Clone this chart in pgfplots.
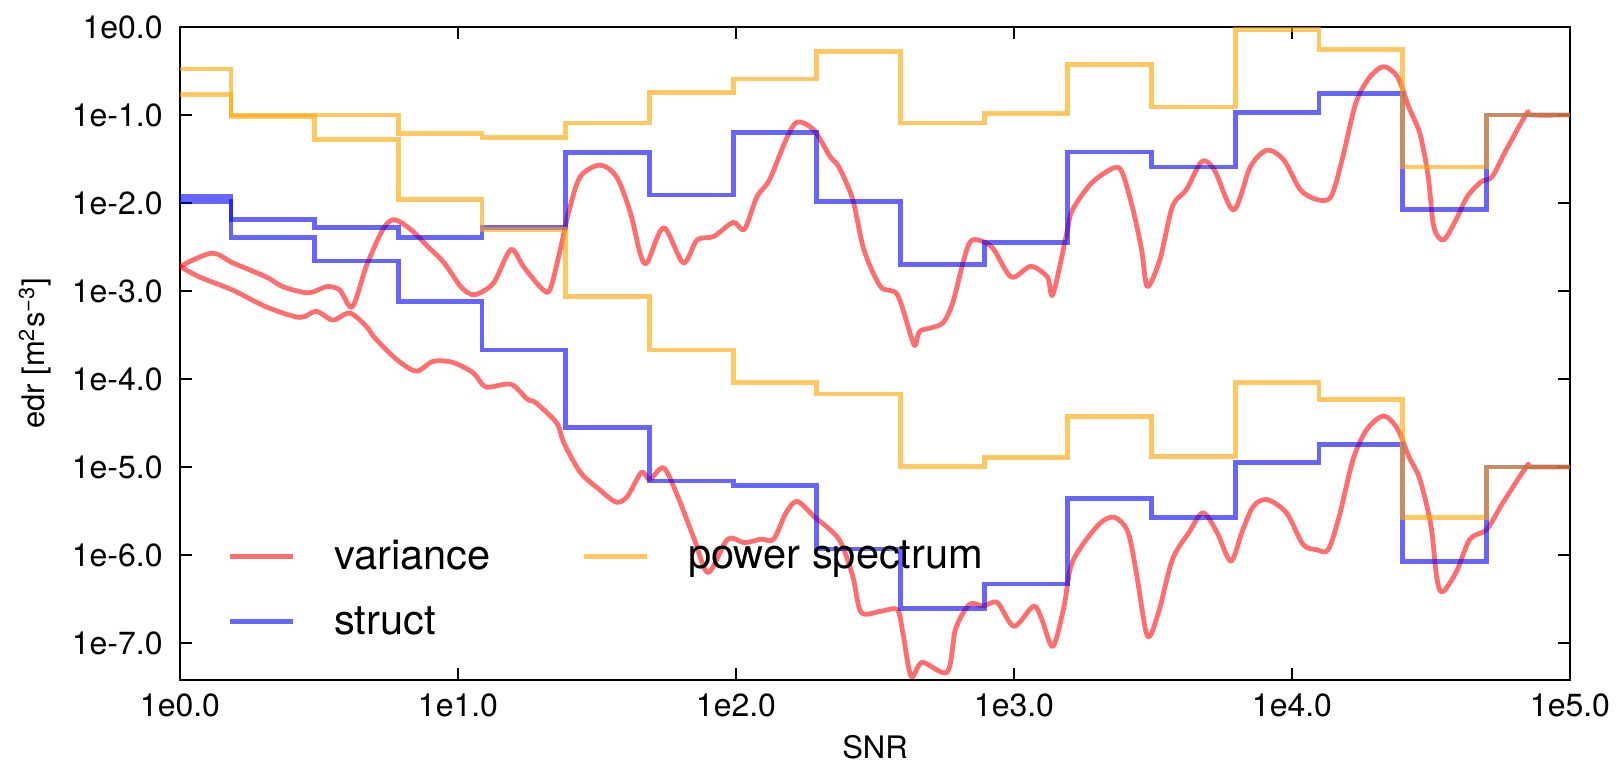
\documentclass[border=0pt]{standalone}
\usepackage{fontspec}
\setmainfont{TeX Gyre Heros}
\usepackage{pgfplots}
\pgfplotsset{compat=1.18}
\definecolor{vred}{RGB}{255,0,0}
\definecolor{vblue}{RGB}{0,0,255}
\definecolor{vorange}{RGB}{255,165,0}
\tikzset{
  varstyle/.style={vred, opacity=0.57, line width=2.4pt, line join=round},
  strstyle/.style={vblue, opacity=0.6, line width=2.4pt},
  psstyle/.style={vorange, opacity=0.62, line width=2.4pt},
}
\begin{document}
\begin{tikzpicture}
\begin{axis}[
  scale only axis,
  width=695pt, height=326.5pt,
  xmode=log, ymode=log,
  xmin=1, xmax=100000,
  ymin=3.8e-8, ymax=1,
  xtick={1,10,100,1000,10000,100000},
  xticklabels={1e0.0,1e1.0,1e2.0,1e3.0,1e4.0,1e5.0},
  ytick={1e-7,1e-6,1e-5,1e-4,1e-3,1e-2,1e-1,1},
  yticklabels={1e-7.0,1e-6.0,1e-5.0,1e-4.0,1e-3.0,1e-2.0,1e-1.0,1e0.0},
  xminorticks=false, yminorticks=false,
  tick align=inside,
  major tick length=6pt,
  tick style={black, line width=0.6pt},
  axis line style={black, line width=0.8pt},
  tick label style={font=\fontsize{16}{19}\selectfont},
  xticklabel style={inner sep=0pt, yshift=-6.5pt},
  yticklabel style={inner sep=0pt, xshift=-8.5pt},
  xlabel={SNR},
  ylabel={edr [m\textsuperscript{2}s\textsuperscript{−3}]},
  label style={font=\fontsize{15.5}{18}\selectfont},
  xlabel style={at={(axis description cs:0.5,-0.103)}, anchor=center},
  ylabel style={at={(axis description cs:-0.1043,0.5)}, anchor=center},
  legend columns=2,
  legend cell align=left,
  legend style={
    draw=none, fill=none,
    at={(0.0338,0.215)}, anchor=north west,
    font=\fontsize{20.8}{25}\selectfont,
    inner sep=0pt,
    nodes={inner sep=0pt},
    row sep=17pt,
    /tikz/every odd column/.append style={column sep=19.5pt},
    /tikz/every even column/.append style={column sep=45.4pt},
  },
  legend image code/.code={\draw[#1] (0pt,0pt) -- (31.5pt,0pt);},
]
% ---------- variance (upper) ----------
\addplot[varstyle, smooth, forget plot] coordinates {
(1,1.905e-3) (1.30,2.692e-3) (1.549,2.089e-3) (2.042,1.445e-3) (2.344,1.122e-3)
(2.884,9.550e-4) (3.388,1.122e-3) (3.758,1.023e-3) (4.169,6.607e-4) (4.677,1.905e-3)
(5.370,5.012e-3) (5.888,6.457e-3) (6.761,5.012e-3) (7.762,3.236e-3) (8.913,2.089e-3)
(10.23,1.122e-3) (11.22,9.120e-4) (12.02,9.550e-4) (13.49,1.259e-3) (15.49,2.951e-3)
(17.18,1.905e-3) (19.72,1.122e-3) (21.38,1.023e-3) (23.44,3.162e-3) (25.12,8.318e-3)
(27.54,1.995e-2) (32.36,2.692e-2) (37.15,1.995e-2) (41.69,7.762e-3) (45.19,2.692e-3)
(47.86,2.089e-3) (54.95,5.248e-3) (64.57,2.089e-3) (72.44,3.802e-3) (83.18,4.169e-3)
(97.72,6.026e-3) (107.2,5.012e-3) (118.9,1.175e-2) (131.8,1.820e-2) (151.4,5.248e-2)
(166.0,8.318e-2) (190.5,6.761e-2) (218.8,3.311e-2) (234.4,2.570e-2) (263.0,1.096e-2)
(288.4,2.951e-3) (331.1,1.122e-3) (380.2,9.120e-4) (426.6,3.020e-4) (441.6,2.399e-4)
(457.1,3.467e-4) (501.2,3.802e-4) (555.9,4.365e-4) (602.6,7.413e-4) (660.7,2.291e-3)
(707.9,3.802e-3) (831.8,3.162e-3) (977.2,1.445e-3) (1148,1.905e-3) (1318,1.445e-3)
(1380,9.120e-4) (1549,4.571e-3) (1622,8.318e-3) (1905,1.698e-2) (2291,2.512e-2)
(2455,2.188e-2) (2692,7.943e-3) (2884,2.818e-3) (3020,1.122e-3) (3350,2.291e-3)
(3715,9.120e-3) (4169,1.413e-2) (4732,2.951e-2) (5248,2.399e-2) (6166,8.318e-3)
(7079,2.570e-2) (8128,3.981e-2) (9333,3.090e-2) (10720,1.413e-2) (12300,1.096e-2)
(13800,1.175e-2) (15140,3.090e-2) (16980,0.1380) (19050,0.2692) (21380,0.3548)
(23990,0.2692) (26300,0.1230) (28840,6.166e-2) (30900,1.995e-2) (32360,5.370e-3)
(35080,3.802e-3) (38900,6.457e-3) (42660,1.175e-2) (47860,1.738e-2) (52480,1.995e-2)
(58880,3.981e-2) (69980,0.1047) (72440,0.1) (100000,0.1)
};
% ---------- variance (lower) ----------
\addplot[varstyle, smooth, forget plot] coordinates {
(1,1.905e-3) (1.175,1.445e-3) (1.549,1.023e-3) (2.042,6.607e-4) (2.692,5.012e-4)
(3.090,5.888e-4) (3.548,4.677e-4) (4.074,5.623e-4) (4.677,3.981e-4) (5.012,2.951e-4)
(6.026,1.660e-4) (7.079,1.230e-4) (8.128,1.585e-4) (9.550,1.549e-4) (11.35,1.175e-4)
(12.59,8.128e-5) (15.49,8.710e-5) (17.78,5.888e-5) (19.05,5.370e-5) (22.65,3.162e-5)
(23.99,1.905e-5) (27.54,8.710e-6) (32.36,5.495e-6) (37.15,3.981e-6) (40.74,4.677e-6)
(45.71,8.710e-6) (48.98,7.244e-6) (54.95,9.772e-6) (61.66,4.677e-6) (70.79,1.514e-6)
(79.43,6.310e-7) (93.33,1.514e-6) (107.2,1.380e-6) (123.0,1.514e-6) (136.5,1.514e-6)
(151.4,3.020e-6) (166.0,4.074e-6) (190.5,2.754e-6) (234.4,1.514e-6) (263.0,5.754e-7)
(281.8,2.239e-7) (331.1,2.291e-7) (380.2,2.399e-7) (398.1,1.318e-7) (426.6,4.169e-8)
(467.7,6.026e-8) (575.4,4.677e-8) (616.6,1.445e-7) (691.8,2.754e-7) (776.2,2.630e-7)
(871.0,2.884e-7) (1000,1.549e-7) (1175,2.630e-7) (1259,1.862e-7) (1380,9.120e-8)
(1514,2.630e-7) (1622,8.318e-7) (1995,2.138e-6) (2291,2.692e-6) (2570,1.820e-6)
(2754,6.310e-7) (3020,1.202e-7) (3311,2.239e-7) (3715,8.913e-7) (4266,1.820e-6)
(4786,3.020e-6) (5370,1.820e-6) (6026,8.511e-7) (6607,1.820e-6) (7244,3.548e-6)
(8128,4.266e-6) (9550,3.020e-6) (10960,1.318e-6) (12300,1.148e-6) (13490,1.148e-6)
(14790,2.754e-6) (16600,1.230e-5) (18620,2.692e-5) (21380,3.802e-5) (23990,2.692e-5)
(26300,1.318e-5) (28840,7.244e-6) (31620,2.138e-6) (33110,5.754e-7) (34670,3.802e-7)
(38900,6.310e-7) (43650,1.514e-6) (50120,1.950e-6) (57540,3.981e-6) (69980,1.023e-5)
(72440,1e-5) (100000,1e-5)
};
% ---------- struct (upper) ----------
\addplot[strstyle, const plot, forget plot] coordinates {
(1,0.01047) (1.52588,0.00646) (3.05176,0.00525) (6.10352,0.00407) (12.207,0.00525)
(24.4141,0.0372) (48.8281,0.0123) (97.6563,0.0631) (195.313,0.01047) (390.625,0.00200)
(781.25,0.00355) (1562.5,0.0380) (3125,0.0257) (6250,0.106) (12500,0.174)
(25000,0.00851) (50000,0.100) (100000,0.100)
};
% ---------- struct (lower) ----------
\addplot[strstyle, const plot, forget plot] coordinates {
(1,0.01175) (1.52588,0.00407) (3.05176,0.00219) (6.10352,7.59e-4) (12.207,2.14e-4)
(24.4141,2.82e-5) (48.8281,6.92e-6) (97.6563,6.17e-6) (195.313,1.17e-6) (390.625,2.45e-7)
(781.25,4.68e-7) (1562.5,4.37e-6) (3125,2.69e-6) (6250,1.12e-5) (12500,1.82e-5)
(25000,8.51e-7) (50000,1.0e-5) (100000,1.0e-5)
};
% ---------- power spectrum (upper) ----------
\addplot[psstyle, const plot, forget plot] coordinates {
(1,0.170) (1.52588,0.100) (3.05176,0.100) (6.10352,0.0617) (12.207,0.0550)
(24.4141,0.0813) (48.8281,0.182) (97.6563,0.257) (195.313,0.525) (390.625,0.0813)
(781.25,0.105) (1562.5,0.372) (3125,0.123) (6250,0.933) (12500,0.550)
(25000,0.0257) (50000,0.100) (100000,0.100)
};
% ---------- power spectrum (lower) ----------
\addplot[psstyle, const plot, forget plot] coordinates {
(1,0.334) (1.52588,0.0955) (3.05176,0.0525) (6.10352,0.01096) (12.207,0.00501)
(24.4141,8.71e-4) (48.8281,2.14e-4) (97.6563,9.12e-5) (195.313,6.76e-5) (390.625,1.02e-5)
(781.25,1.29e-5) (1562.5,3.72e-5) (3125,1.32e-5) (6250,9.12e-5) (12500,5.89e-5)
(25000,2.69e-6) (50000,1.0e-5) (100000,1.0e-5)
};
\addlegendimage{varstyle}
\addlegendentry{variance}
\addlegendimage{psstyle}
\addlegendentry{power spectrum}
\addlegendimage{strstyle}
\addlegendentry{struct}
\coordinate (bl) at (rel axis cs:0,0);
\coordinate (tr) at (rel axis cs:1,1);
\end{axis}
\pgfresetboundingbox
\path[use as bounding box] ([xshift=-90pt,yshift=-43pt]bl) rectangle ([xshift=24.5pt,yshift=13.5pt]tr);
\end{tikzpicture}
\end{document}
